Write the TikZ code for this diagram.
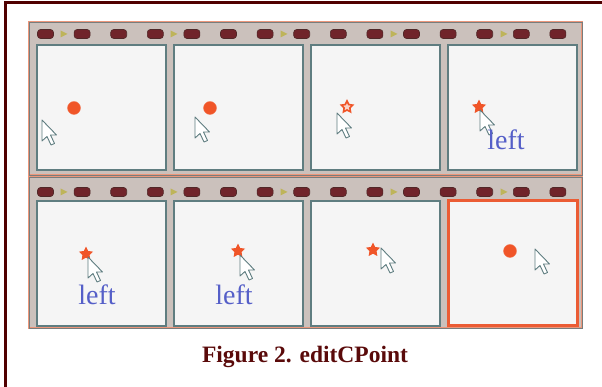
\documentclass[tikz,border=0pt]{standalone}
\usepackage{fontspec}
\setmainfont{Liberation Serif}
\usepackage{tikz}
\usetikzlibrary{calc,positioning,shapes.geometric}

\tikzset{
  cell/.style={draw=edgeColor,fill=cellColor,line width=1.1pt,preaction={draw=salmon,line width=2.8pt},minimum width=129pt,minimum height=125pt,inner sep=0pt,outer sep=0pt},
  hole/.style={draw=holeEdge,fill=holeColor,line width=0.6pt,rounded corners=3pt},
  marker/.style={fill=markColor,draw=none},
  cpoint/.style={circle,fill=pointColor,draw=pointColor!80!white,minimum size=13pt,inner sep=0pt},
  burst/.style={star,star points=5,star point ratio=2.0,fill=pointColor,draw=pointColor,line width=0.8pt,minimum size=13pt,inner sep=0pt},
  hollowburst/.style={star,star points=5,star point ratio=2.0,fill=pointColor!25!white,draw=pointColor,line width=1.6pt,minimum size=12pt,inner sep=0pt},
  word/.style={text=wordColor,font=\fontsize{28}{30}\selectfont,anchor=base,inner sep=0pt},
  pointer/.pic={
    \path[draw=edgeColor,fill=white,line width=0.9pt,line join=round]
      (0,0) -- (0,-21) -- (5,-16.5) -- (9,-25) -- (12.5,-23.5) -- (8.5,-15) -- (14.5,-15) -- cycle;
  }
}

\begin{document}
\begin{tikzpicture}[x=1pt,y=1pt]
\definecolor{fillColor}{RGB}{255,255,255}
\definecolor{borderColor}{RGB}{80,0,0}
\definecolor{stripColor}{RGB}{203,193,188}
\definecolor{stripEdge}{RGB}{120,125,125}
\definecolor{salmon}{RGB}{236,150,122}
\definecolor{holeColor}{RGB}{112,36,42}
\definecolor{holeEdge}{RGB}{80,40,40}
\definecolor{markColor}{RGB}{190,180,90}
\definecolor{cellColor}{RGB}{245,245,245}
\definecolor{edgeColor}{RGB}{95,125,128}
\definecolor{pointColor}{RGB}{240,85,40}
\definecolor{hiColor}{RGB}{235,92,52}
\definecolor{wordColor}{RGB}{85,95,200}
\definecolor{captionColor}{RGB}{90,10,10}
\path[use as bounding box,fill=fillColor] (0,0) rectangle (602,387);

% page frame
\path[draw=borderColor,line width=3pt] (5,0) -- (5,384) -- (602,384);

% film strips
\path[fill=stripColor,draw=salmon,line width=2.2pt] ( 29,212) rectangle (582,365);
\path[draw=stripEdge,line width=0.8pt] ( 29,212) rectangle (582,365);
\path[fill=stripColor,draw=salmon,line width=2.2pt] ( 29, 59) rectangle (582,210);
\path[draw=stripEdge,line width=0.8pt] ( 29, 59) rectangle (582,210);

% sprocket holes and play markers
\foreach \yy in {353,195}{
  \foreach \k in {0,...,14}{
    \path[hole] ({45.5+36.6*\k-8},\yy-4.5) rectangle ({45.5+36.6*\k+8},\yy+4.5);
  }
  \foreach \j in {0,...,4}{
    \path[marker] ({63.5+110*\j-3},\yy+3.5) -- ({63.5+110*\j+4},\yy) -- ({63.5+110*\j-3},\yy-3.5) -- cycle;
  }
}

% cells, top row
\node[cell] (f1) at (101.5,279.5) {};
\node[cell] (f2) at (238.5,279.5) {};
\node[cell] (f3) at (375.5,279.5) {};
\node[cell] (f4) at (512.5,279.5) {};
% cells, bottom row
\node[cell] (f5) at (101.5,123.5) {};
\node[cell] (f6) at (238.5,123.5) {};
\node[cell] (f7) at (375.5,123.5) {};
\node[cell,draw=hiColor,line width=3pt] (f8) at (512.5,123.5) {};

% frame 1
\node[cpoint] (p1) at ( 74,279) {};
\pic at ( 42,267) {pointer};
% frame 2
\node[cpoint] (p2) at (210,279) {};
\pic at (195,270) {pointer};
% frame 3
\node[hollowburst] (p3) at (347,280) {};
\pic at (337,274) {pointer};
% frame 4
\node[burst] (p4) at (479,280) {};
\pic at (480,277) {pointer};
\node[word] (w4) at (506,237) {left};
% frame 5
\node[burst] (p5) at ( 86,133) {};
\pic at ( 88,130) {pointer};
\node[word] (w5) at ( 97, 82) {left};
% frame 6
\node[burst] (p6) at (238,136) {};
\pic at (240,132) {pointer};
\node[word] (w6) at (234, 82) {left};
% frame 7
\node[burst] (p7) at (373,137) {};
\pic at (381,139) {pointer};
% frame 8
\node[cpoint] (p8) at (510,136) {};
\pic at (535,138) {pointer};

\node[text=captionColor,anchor=base,inner sep=0pt,font=\fontsize{23.5}{26}\selectfont\bfseries] (caption) at (305,24) {Figure 2. editCPoint};
\end{tikzpicture}
\end{document}
